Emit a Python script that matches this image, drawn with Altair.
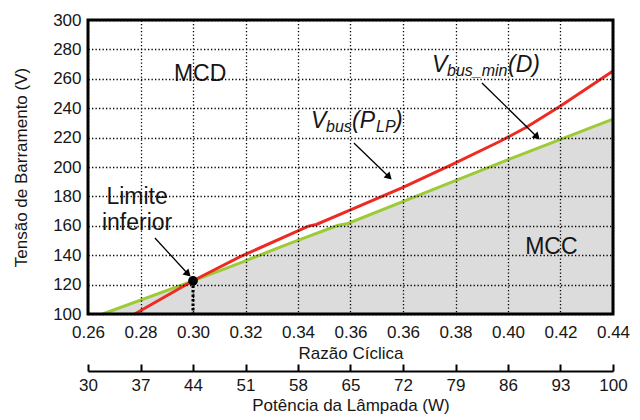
import altair as alt
import pandas as pd

# ---------------- data ----------------
d_tick_labels = ["0.26", "0.28", "0.30", "0.32", "0.34", "0.36", "0.36", "0.38", "0.40", "0.42", "0.44"]
power_tick_labels = ["30", "37", "44", "51", "58", "65", "72", "79", "86", "93", "100"]
v_ticks = [100, 120, 140, 160, 180, 200, 220, 240, 260, 280, 300]

# V_bus_min(D) (green, boundary of shaded MCC region)
green_d = [0.2656, 0.300, 0.318, 0.3354, 0.355, 0.359, 0.3806, 0.399, 0.4208, 0.440, 0.460]
green_v = [100.0, 122.5, 134.8, 147.0, 160.2, 161.6, 177.0, 190.0, 205.5, 218.8, 232.6]

# V_bus(P_LP) (red)
red_d = [0.2778, 0.300, 0.318, 0.344, 0.347, 0.362, 0.380, 0.399, 0.417, 0.427, 0.440, 0.460]
red_v = [100.0, 122.6, 139.0, 159.8, 160.9, 172.3, 186.2, 202.0, 217.5, 227.0, 241.5, 265.3]

# lower limit point
limit_d = [0.30]
limit_v = [122.5]

# annotations
region_labels = ["MCD", "MCC", "Limite", "inferior"]
region_d = [0.3027, 0.4365, 0.2787, 0.2787]
region_v = [258.2, 140.5, 174.8, 157.1]

arrow_d0 = [0.2855, 0.3613, 0.4101]
arrow_v0 = [151.7, 216.3, 257.1]
arrow_d1 = [0.2981, 0.3747, 0.4311]
arrow_v1 = [127.2, 193.2, 220.4]

vbus_anchor = (0.34495, 226.5)
vbusmin_anchor = (0.39105, 264.6)

D0, DSTEP = 0.26, 0.02
D_MAX = 0.46
V_MIN, V_MAX = 100, 300
d_ticks = [round(D0 + DSTEP * i, 4) for i in range(len(d_tick_labels))]

# ---------------- helpers ----------------
FONT = "Liberation Sans"
TXT = "#161616"
RED = "#ee2b22"
GREEN = "#9dcb35"

xscale = alt.Scale(domain=[D0, D_MAX], nice=False, zero=False)
yscale = alt.Scale(domain=[V_MIN, V_MAX], nice=False, zero=False)


def X(field, axis=None):
    return alt.X(f"{field}:Q", scale=xscale, axis=axis)


def Y(field, axis=None):
    return alt.Y(f"{field}:Q", scale=yscale, axis=axis)


exprD = "[" + ",".join(repr(s) for s in d_tick_labels) + "][round((datum.value - 0.26) / 0.02)]"
exprP = "[" + ",".join(repr(s) for s in power_tick_labels) + "][round((datum.value - 0.26) / 0.02)]"

GRIDSTYLE = dict(grid=True, gridColor="#000000", gridWidth=1.3, gridDash=[1.3, 2.2],
                 gridOpacity=1, zindex=1)

axD = alt.Axis(orient="bottom", values=d_ticks, labelExpr=exprD, ticks=False, tickSize=0,
               domain=False, labelFont=FONT, labelFontSize=17, labelColor=TXT,
               labelPadding=10, labelFlush=False, labelOverlap=False,
               title="Razão Cíclica", titleFont=FONT, titleFontSize=17, titleFontWeight="normal",
               titleColor=TXT, titlePadding=5, **GRIDSTYLE)

axPticks = alt.Axis(orient="top", offset=-(294 + 57), values=d_ticks, labels=False,
                    ticks=True, tickSize=7, tickWidth=2, tickColor="black",
                    domain=True, domainWidth=2, domainColor="black", grid=False, title=None)

axPlab = alt.Axis(orient="bottom", offset=57, values=d_ticks, labelExpr=exprP, ticks=False,
                  tickSize=0, domain=False, grid=False, labelFont=FONT, labelFontSize=17,
                  labelColor=TXT, labelPadding=6, labelFlush=False, labelOverlap=False,
                  title="Potência da Lâmpada (W)", titleFont=FONT, titleFontSize=17,
                  titleFontWeight="normal", titleColor=TXT, titlePadding=4)

axY = alt.Axis(orient="left", values=v_ticks, ticks=False, tickSize=0, domain=False,
               labelFont=FONT, labelFontSize=17, labelColor=TXT, labelPadding=7,
               title="Tensão de Barramento (V)", titleFont=FONT, titleFontSize=17,
               titleFontWeight="normal", titleColor=TXT, titlePadding=22, **GRIDSTYLE)

green_df = pd.DataFrame({"d": green_d, "v": green_v, "base": V_MIN})
red_df = pd.DataFrame({"d": red_d, "v": red_v})
limit_df = pd.DataFrame({"d": limit_d, "v": limit_v, "base": V_MIN})
xt_df = pd.DataFrame({"gd": d_ticks, "glo": [V_MIN] * len(d_ticks)})

# shaded MCC region (carries the D axis and the V axis, with their dotted grids)
area = alt.Chart(green_df).mark_area(color="#dcdcdc").encode(
    x=X("d", axD), y=Y("v", axY), y2="base:Q")

# invisible layers carrying the lamp-power axis (ticks above the line, labels below)
pticks = alt.Chart(xt_df).mark_tick(opacity=0).encode(x=X("gd", axPticks), y=Y("glo"))
plab = alt.Chart(xt_df).mark_tick(opacity=0).encode(x=X("gd", axPlab), y=Y("glo"))

green_line = alt.Chart(green_df).mark_line(color=GREEN, strokeWidth=3).encode(x=X("d"), y=Y("v"))
red_line = alt.Chart(red_df).mark_line(color=RED, strokeWidth=3).encode(x=X("d"), y=Y("v"))

drop = alt.Chart(limit_df).mark_rule(color="black", strokeWidth=3, strokeDash=[2.5, 2]).encode(
    x=X("d"), y=Y("v"), y2="base:Q")
dot = alt.Chart(limit_df).mark_circle(color="black", size=95, opacity=1).encode(x=X("d"), y=Y("v"))

frame_df = pd.DataFrame({"x0": [D0], "x1": [D_MAX], "y0": [V_MIN], "y1": [V_MAX]})
frame = alt.Chart(frame_df).mark_rect(fillOpacity=0, stroke="black", strokeWidth=3).encode(
    x=X("x0"), x2="x1:Q", y=Y("y0"), y2="y1:Q")

arrows_df = pd.DataFrame({"d0": arrow_d0, "v0": arrow_v0, "d1": arrow_d1, "v1": arrow_v1})
arrow_lines = alt.Chart(arrows_df).mark_rule(color="black", strokeWidth=1.3).encode(
    x=X("d0"), y=Y("v0"), x2="d1:Q", y2="v1:Q")
arrow_heads = alt.Chart(arrows_df).mark_point(shape="triangle-up", filled=True, size=70,
                                              color="black", opacity=1, angle=135).encode(
    x=X("d1"), y=Y("v1"))

region_df = pd.DataFrame({"d": region_d, "v": region_v, "t": region_labels})
region_txt = alt.Chart(region_df).mark_text(align="center", baseline="alphabetic", font=FONT,
                                            fontSize=23, color=TXT).encode(
    x=X("d"), y=Y("v"), text="t:N")


def piece(anchor, s, size, dx=0, dy=0):
    df = pd.DataFrame({"d": [anchor[0]], "v": [anchor[1]], "t": [s]})
    return alt.Chart(df).mark_text(align="left", baseline="alphabetic", font=FONT,
                                   fontStyle="italic", fontSize=size, dx=dx, dy=dy,
                                   color=TXT).encode(x=X("d"), y=Y("v"), text="t:N")


labels = [
    piece(vbus_anchor, "V", 23, 0, 0),
    piece(vbus_anchor, "bus", 16, 15, 4),
    piece(vbus_anchor, "(P", 23, 41, 0),
    piece(vbus_anchor, "LP", 16, 65, 4),
    piece(vbus_anchor, ")", 23, 84, 0),
    piece(vbusmin_anchor, "V", 23, 0, 0),
    piece(vbusmin_anchor, "bus_min", 16, 15, 4),
    piece(vbusmin_anchor, "(D)", 23, 76, 0),
]

chart = alt.layer(
    area, pticks, plab, green_line, red_line, drop, dot, frame,
    arrow_lines, arrow_heads, region_txt, *labels
).resolve_scale(x="shared", y="shared").resolve_axis(x="independent", y="independent").properties(
    width=525, height=294,
    autosize=alt.AutoSizeParams(type="none"),
    padding={"left": 80, "top": 12, "right": 19, "bottom": 100},
    background="white",
).configure_view(strokeWidth=0)

chart.save("out.html", embed_options={"renderer": "svg", "actions": False})
